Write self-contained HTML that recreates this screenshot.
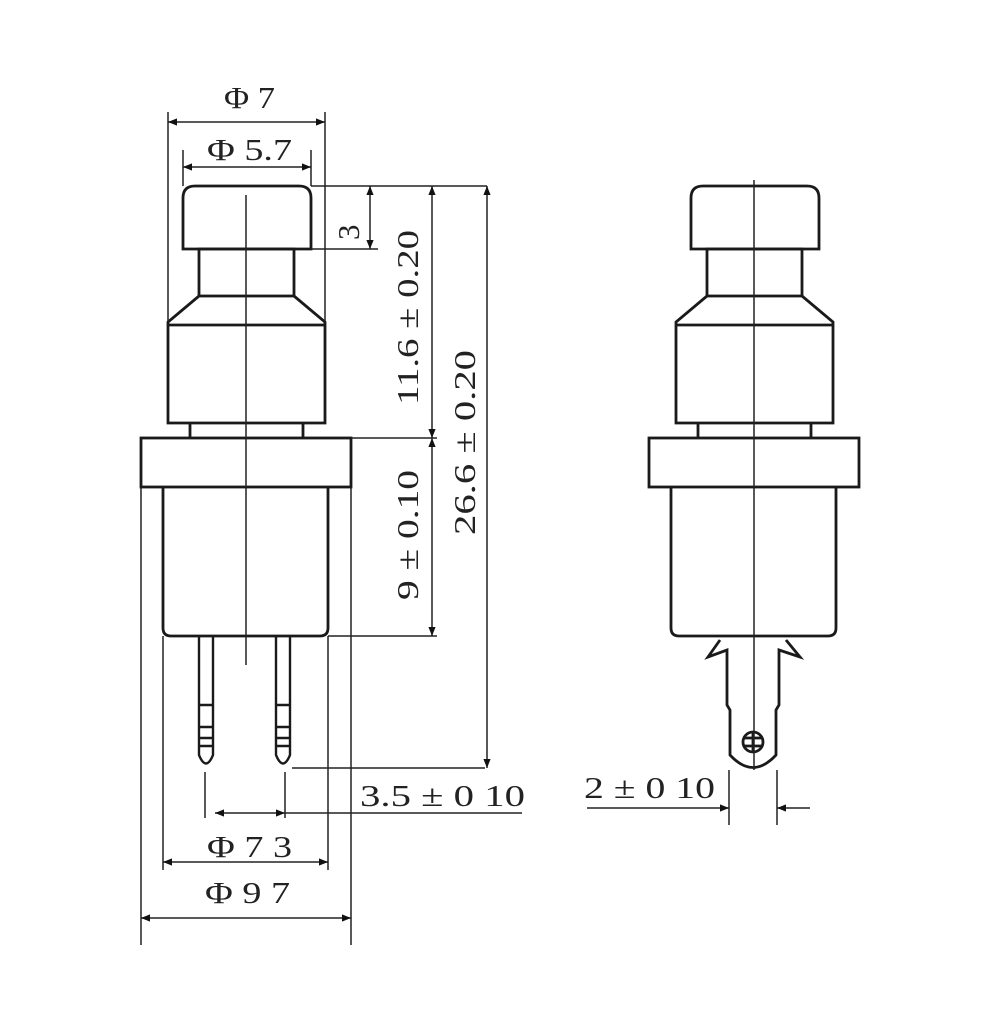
<!DOCTYPE html>
<html><head><meta charset="utf-8"><style>
body{margin:0;background:#fff}
svg{display:block}
text{font-family:"Liberation Serif",serif;fill:#222}
</style></head><body>
<svg width="1000" height="1019" viewBox="0 0 1000 1019" xmlns="http://www.w3.org/2000/svg">
<defs>
<marker id="a" viewBox="0 0 10 10" refX="10" refY="5" markerWidth="16" markerHeight="9" orient="auto-start-reverse" markerUnits="userSpaceOnUse"><path d="M0,1 L10,5 L0,9 Z" fill="#111"/></marker>
</defs>
<g fill="none" stroke="#1a1a1a" stroke-width="2.8">
<path d="M183,249 V198 Q183,186 195,186 H299 Q311,186 311,198 V249 Z"/>
<rect x="199" y="249" width="95" height="47"/>
<path d="M199,296 L168,322 V423 H325 V322 L294,296"/>
<line x1="168" y1="325" x2="325" y2="325"/>
<path d="M190,423 V438 M303,423 V438"/>
<rect x="141" y="438" width="210" height="49"/>
<path d="M163,487 V628 Q163,636 171,636 H320 Q328,636 328,628 V487"/>
</g>
<g fill="none" stroke="#1a1a1a" stroke-width="2.4">
<path d="M199,636 V755 Q206,772 213,755 V636"/>
<path d="M276,636 V755 Q283,772 290,755 V636"/>
<path d="M199,705 H213 M199,727 H213 M199,738 H213 M199,746 H213 M276,705 H290 M276,727 H290 M276,738 H290 M276,746 H290"/>
</g>
<line x1="246" y1="195" x2="246" y2="665" stroke="#222" stroke-width="1.5"/>
<g fill="none" stroke="#1a1a1a" stroke-width="2.8">
<path d="M691,249 V198 Q691,186 703,186 H807 Q819,186 819,198 V249 Z"/>
<rect x="707" y="249" width="95" height="47"/>
<path d="M707,296 L676,322 V423 H833 V322 L802,296"/>
<line x1="676" y1="325" x2="833" y2="325"/>
<path d="M698,423 V438 M811,423 V438"/>
<rect x="649" y="438" width="210" height="49"/>
<path d="M671,487 V628 Q671,636 679,636 H828 Q836,636 836,628 V487"/>
<path d="M720,640 L708,657 L727,650 V705 L730,710 V755 Q753,780 776,755 V710 L779,705 V650 L800,657 L786,640"/>
<circle cx="753" cy="742" r="10"/>
<path d="M743,738 H763 M743,746 H763 M753,732 V752"/>
</g>
<line x1="754" y1="180" x2="754" y2="770" stroke="#222" stroke-width="1.5"/>
<g stroke="#222" stroke-width="1.5" fill="none">
<path d="M168,112 V322 M325,112 V322 M183,150 V186 M311,150 V186"/>
<path d="M311,186 H487 M311,249 H378 M351,438 H437 M328,636 H437 M292,768 H485"/>
<path d="M141,487 V945 M351,487 V945 M163,636 V870 M328,636 V870"/>
<path d="M205,772 V818 M285,772 V818"/>
<path d="M729,770 V825 M777,770 V825"/>
<line x1="168" y1="122" x2="325" y2="122" marker-start="url(#a)" marker-end="url(#a)"/>
<line x1="183" y1="167" x2="311" y2="167" marker-start="url(#a)" marker-end="url(#a)"/>
<line x1="370" y1="186" x2="370" y2="249" marker-start="url(#a)" marker-end="url(#a)"/>
<line x1="432" y1="186" x2="432" y2="438" marker-start="url(#a)" marker-end="url(#a)"/>
<line x1="432" y1="438" x2="432" y2="636" marker-start="url(#a)" marker-end="url(#a)"/>
<line x1="487" y1="186" x2="487" y2="768" marker-start="url(#a)" marker-end="url(#a)"/>
<line x1="215" y1="813" x2="285" y2="813" marker-start="url(#a)" marker-end="url(#a)"/>
<line x1="285" y1="813" x2="522" y2="813"/>
<line x1="163" y1="862" x2="328" y2="862" marker-start="url(#a)" marker-end="url(#a)"/>
<line x1="141" y1="918" x2="351" y2="918" marker-start="url(#a)" marker-end="url(#a)"/>
<line x1="587" y1="808" x2="729" y2="808" marker-end="url(#a)"/>
<line x1="810" y1="808" x2="777" y2="808" marker-end="url(#a)"/>
</g>
<g font-size="31">
<text x="224" y="108" textLength="51" lengthAdjust="spacingAndGlyphs">Φ 7</text>
<text x="207" y="160" textLength="85" lengthAdjust="spacingAndGlyphs">Φ 5.7</text>
<text x="207" y="857" textLength="85" lengthAdjust="spacingAndGlyphs">Φ 7 3</text>
<text x="205" y="903" textLength="85" lengthAdjust="spacingAndGlyphs">Φ 9 7</text>
<text x="360" y="806" textLength="165" lengthAdjust="spacingAndGlyphs">3.5 ± 0 10</text>
<text x="584" y="798" textLength="131" lengthAdjust="spacingAndGlyphs">2 ± 0 10</text>
<text transform="translate(359,240) rotate(-90)">3</text>
<text transform="translate(418,405) rotate(-90)" textLength="175" lengthAdjust="spacingAndGlyphs">11.6 ± 0.20</text>
<text transform="translate(418,600) rotate(-90)" textLength="130" lengthAdjust="spacingAndGlyphs">9 ± 0.10</text>
<text transform="translate(475,535) rotate(-90)" textLength="185" lengthAdjust="spacingAndGlyphs">26.6 ± 0.20</text>
</g>
</svg>
</body></html>
